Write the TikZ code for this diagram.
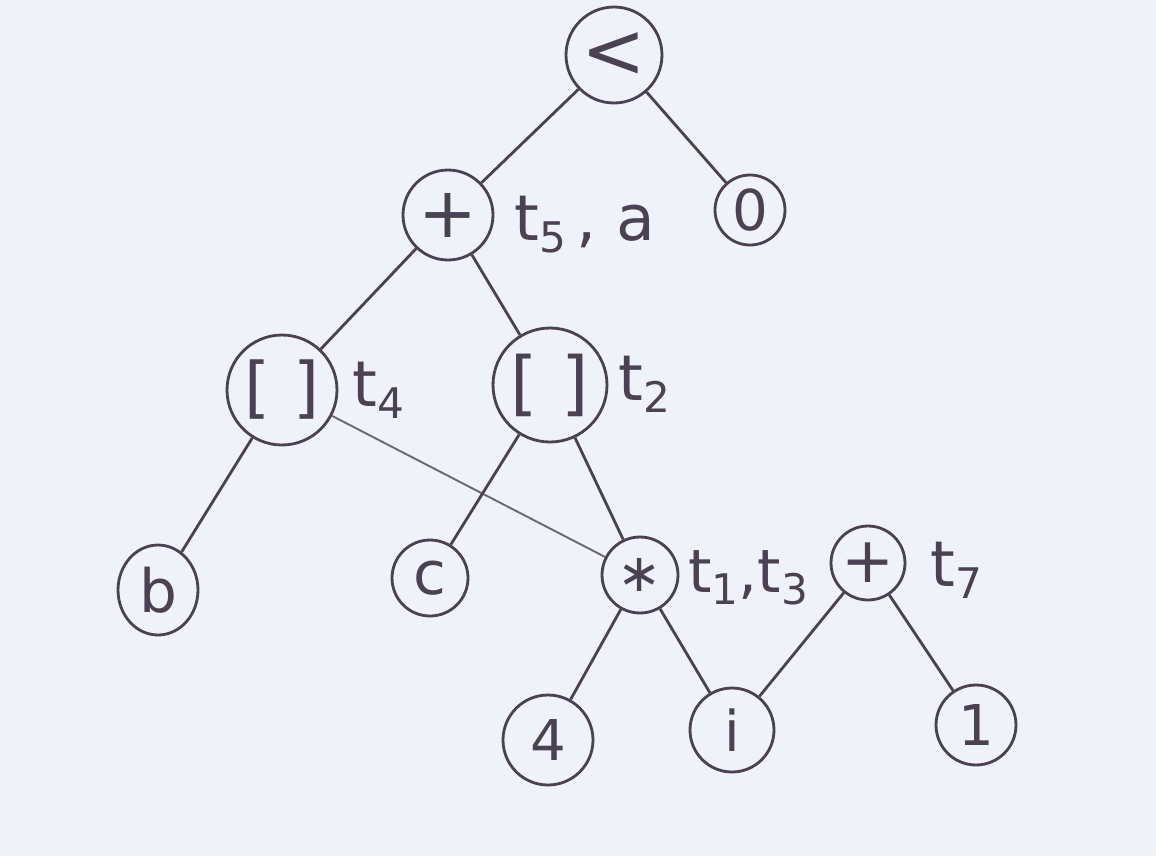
\documentclass[tikz,border=0pt]{standalone}
\usepackage{fontspec}
\setmainfont{DejaVu Sans}
\usetikzlibrary{shapes.geometric}
\newcommand{\sbs}[1]{\raisebox{-0.35ex}{\fontsize{24}{28}\selectfont #1}}
\begin{document}
\begin{tikzpicture}[x=0.02cm,y=-0.02cm,
  ink/.style={draw=inkc, line width=1.6pt},
  vert/.style={circle, ink, inner sep=0pt, text=inkc, font=\fontsize{32}{36}\selectfont},
  lab/.style={text=inkc, font=\fontsize{36}{40}\selectfont, anchor=west, inner sep=0pt},
  edge/.style={draw=inkc, line width=1.6pt},
  thinedge/.style={draw=inkc!80, line width=1.1pt}]
\definecolor{inkc}{HTML}{4A4252}
\definecolor{paper}{HTML}{EFF2F8}
\fill[paper] (0,0) rectangle (1156,856);
\useasboundingbox (0,0) rectangle (1156,856);
\node[vert, minimum size=1.92cm, font=\fontsize{44}{48}\selectfont] (lt) at (614,55) {<};
\node[vert, minimum size=1.80cm, font=\fontsize{40}{44}\selectfont] (p1) at (448,215) {+};
\node[vert, minimum size=1.40cm] (z) at (750,210) {0};
\node[vert, minimum size=2.20cm, font=\fontsize{38}{42}\selectfont] (bl) at (282,390) {[\,\,]};
\node[vert, minimum size=2.28cm, font=\fontsize{40}{44}\selectfont] (br) at (550,385) {[\,\,]};
\node[ellipse, ink, inner sep=0pt, text=inkc, font=\fontsize{34}{38}\selectfont, minimum width=1.6cm, minimum height=1.8cm] (b) at (158,590) {b};
\node[vert, minimum size=1.52cm, font=\fontsize{34}{38}\selectfont] (c) at (430,578) {c};
\node[vert, minimum size=1.52cm, font=\fontsize{30}{34}\selectfont] (m) at (640,575) {∗};
\node[vert, minimum size=1.48cm, font=\fontsize{36}{40}\selectfont] (p2) at (868,563) {+};
\node[vert, minimum size=1.80cm] (f) at (548,740) {4};
\node[vert, minimum size=1.68cm] (i) at (732,730) {i};
\node[vert, minimum size=1.60cm] (o) at (976,725) {1};
\node[lab] (l1) at (514,225) {t\sbs{5}\,, a};
\node[lab] (l2) at (352,390) {t\sbs{4}};
\node[lab] (l3) at (618,384) {t\sbs{2}};
\node[lab, font=\fontsize{34}{38}\selectfont] (l4) at (688,578) {t\sbs{1},t\sbs{3}};
\node[lab] (l5) at (930,570) {t\sbs{7}};
\draw[edge] (lt) -- (p1);
\draw[edge] (lt) -- (z);
\draw[edge] (p1) -- (bl);
\draw[edge] (p1) -- (br);
\draw[edge] (bl) -- (b);
\draw[thinedge] (bl) -- (m);
\draw[edge] (br) -- (c);
\draw[edge] (br) -- (m);
\draw[edge] (m) -- (f);
\draw[edge] (m) -- (i);
\draw[edge] (p2) -- (i);
\draw[edge] (p2) -- (o);
\end{tikzpicture}
\end{document}
